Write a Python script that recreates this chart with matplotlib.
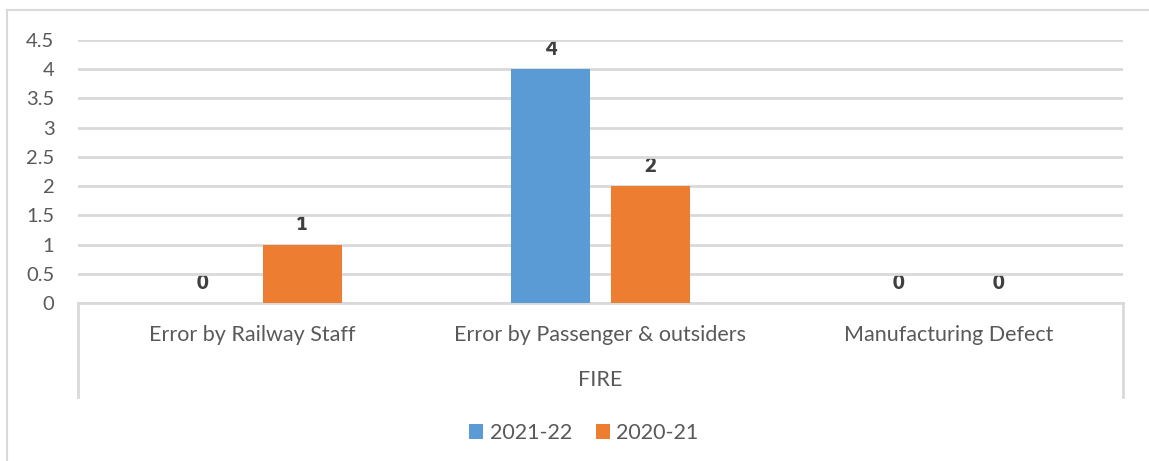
import numpy as np
import matplotlib
matplotlib.use("Agg")
import matplotlib.pyplot as plt
from matplotlib.lines import Line2D
from matplotlib.patches import Patch

plt.rcParams['font.family'] = ['Lato', 'DejaVu Sans']

# data
categories = ["Error by Railway Staff", "Error by Passenger & outsiders", "Manufacturing Defect"]
group_label = "FIRE"
series_names = ["2021-22", "2020-21"]
vals_2122 = [0, 4, 0]
vals_2021 = [1, 2, 0]
yticks = [0, 0.5, 1, 1.5, 2, 2.5, 3, 3.5, 4, 4.5]

blue = "#5B9BD5"
orange = "#ED7D31"
grey_line = "#D9D9D9"
txt = "#595959"
lbl = "#404040"

W, H = 1149, 461
fig = plt.figure(figsize=(W / 100, H / 100), dpi=100)

# outer chart frame (top and left edges visible)
fig.add_artist(Line2D([7 / W, 1.0], [1 - 10 / H, 1 - 10 / H], color=grey_line, lw=1.5))
fig.add_artist(Line2D([7 / W, 7 / W], [1 - 10 / H, 0.0], color=grey_line, lw=1.5))

left, right = 78 / W, 1123 / W
bottom, top = 1 - 303 / H, 1 - 40 / H
ax = fig.add_axes([left, bottom, right - left, top - bottom])

x = np.arange(len(categories))
bw = 0.227
off = 0.1435

b1 = ax.bar(x - off, vals_2122, bw, color=blue, zorder=3)
b2 = ax.bar(x + off, vals_2021, bw, color=orange, zorder=3)

# value labels sit under the gridlines
for bars, vals in [(b1, vals_2122), (b2, vals_2021)]:
    for rect, v in zip(bars, vals):
        ax.annotate(str(v), (rect.get_x() + rect.get_width() / 2, v),
                    xytext=(0, 15), textcoords="offset points",
                    ha="center", va="center", fontsize=14.5, fontweight="heavy",
                    color=lbl, zorder=0.4)

ax.set_xlim(-0.5, len(categories) - 0.5)
ax.set_ylim(0, 4.5)
ax.set_yticks(yticks)
ax.set_yticklabels([f"{t:g}" for t in yticks])
ax.set_axisbelow(True)
ax.grid(axis="y", color=grey_line, lw=2)
ax.tick_params(axis="y", length=0, pad=17, labelsize=14.5, labelcolor=txt)
ax.set_xticks([])
for s in ["top", "right", "left"]:
    ax.spines[s].set_visible(False)
ax.spines["bottom"].set_color(grey_line)
ax.spines["bottom"].set_linewidth(2)

# two-level category axis box
box_depth = (397 - 303) / (303 - 40)
for xe in [0, 1]:
    ax.add_artist(Line2D([xe, xe], [0, -box_depth], transform=ax.transAxes,
                         color=grey_line, lw=2, clip_on=False))

tr = ax.get_xaxis_transform()
for xi, c in zip(x, categories):
    ax.text(xi, -32 / 263, c, transform=tr, ha="center", va="center",
            fontsize=15.5, color=txt)
ax.text(1, -77 / 263, group_label, transform=tr, ha="center", va="center",
        fontsize=15.5, color=txt)

handles = [Patch(facecolor=blue, label=series_names[0]),
           Patch(facecolor=orange, label=series_names[1])]
fig.legend(handles=handles, loc="center", bbox_to_anchor=(584 / W, 1 - 433 / H),
           ncol=2, frameon=False, fontsize=15.5, labelcolor=txt,
           handlelength=0.65, handleheight=0.65, handletextpad=0.3, columnspacing=1.1)

fig.savefig("out.png", dpi=100)
